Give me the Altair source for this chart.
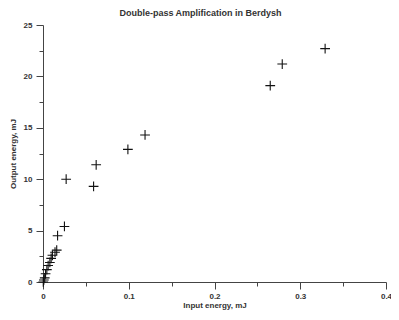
import altair as alt
import pandas as pd

input_energy = [0.0003, 0.001, 0.002, 0.003, 0.0045, 0.006, 0.008, 0.0095, 0.011, 0.014, 0.016, 0.017, 0.025, 0.027, 0.059, 0.062, 0.099, 0.119, 0.265, 0.279, 0.329]
output_energy = [0.0, 0.2, 0.4, 0.8, 1.2, 1.6, 1.9, 2.3, 2.6, 2.9, 3.1, 4.5, 5.4, 10.0, 9.3, 11.4, 12.9, 14.3, 19.1, 21.2, 22.7]

x_ticks = [0, 0.05, 0.1, 0.15, 0.2, 0.25, 0.3, 0.35, 0.4]
y_ticks = [0, 2.5, 5, 7.5, 10, 12.5, 15, 17.5, 20, 22.5, 25]

df = pd.DataFrame({"x": input_energy, "y": output_energy})

FONT = "Liberation Sans"
AX = "#444444"

chart = alt.Chart(df).mark_point(
    shape="M -1 0 L 1 0 M 0 -1 L 0 1",
    filled=False,
    stroke="#111111",
    strokeWidth=1.1,
    size=95,
    opacity=1,
).encode(
    x=alt.X("x:Q", scale=alt.Scale(domain=[0, 0.4], nice=False, zero=False),
            axis=alt.Axis(values=x_ticks, title="Input energy, mJ",
                          tickSize={"condition": {"test": "round(datum.value*100) % 10 === 0", "value": 7}, "value": 4},
                          labelExpr="round(datum.value*100) % 10 === 0 ? format(datum.value, '~g') : ''",
                          grid=False, domainColor=AX, tickColor=AX, labelColor="#333333",
                          labelFont=FONT, labelFontSize=8, labelFontWeight="bold", labelPadding=3,
                          titleFont=FONT, titleFontSize=8, titleFontWeight="bold", titleColor="#333333",
                          titlePadding=1, labelFlush=False)),
    y=alt.Y("y:Q", scale=alt.Scale(domain=[0, 25], nice=False, zero=False),
            axis=alt.Axis(values=y_ticks, title="Output energy, mJ",
                          tickSize={"condition": {"test": "round(datum.value*10) % 50 === 0", "value": 7}, "value": 4},
                          labelExpr="round(datum.value*10) % 50 === 0 ? format(datum.value, '~g') : ''",
                          grid=False, domainColor=AX, tickColor=AX, labelColor="#333333",
                          labelFont=FONT, labelFontSize=8, labelFontWeight="bold", labelPadding=4,
                          titleFont=FONT, titleFontSize=8, titleFontWeight="bold", titleColor="#333333",
                          titlePadding=6, labelFlush=False)),
).properties(
    width=343,
    height=257,
    title=alt.TitleParams("Double-pass Amplification in Berdysh", font=FONT, fontSize=9,
                          fontWeight="bold", color="#333333", anchor="middle", dx=-14, offset=3),
    autosize=alt.AutoSizeParams(type="none"),
    padding={"left": 35, "top": 17, "right": 5, "bottom": 28},
).configure_view(stroke=None)

chart.save("out.html", embed_options={"renderer": "svg", "actions": False})
